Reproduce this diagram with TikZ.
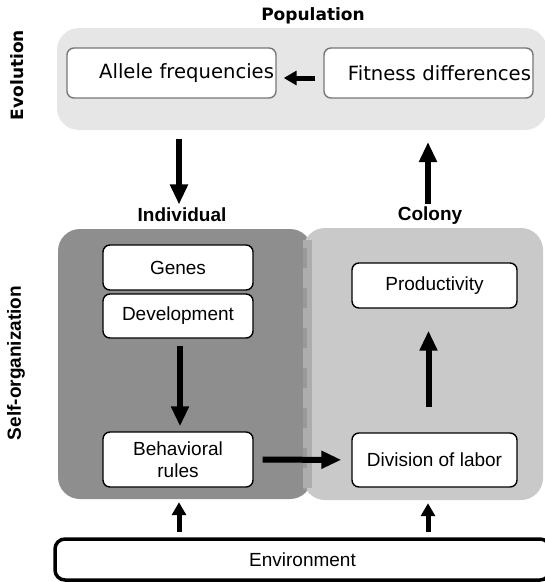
\documentclass[tikz,border=0pt]{standalone}
\usepackage{fontspec}
\setmainfont{Liberation Sans}
\newfontfamily\dejavu{DejaVu Sans}
\usetikzlibrary{arrows.meta}
\definecolor{popgray}{HTML}{E6E6E6}
\definecolor{indgray}{HTML}{8E8E8E}
\definecolor{colgray}{HTML}{C9C9C9}
\definecolor{seamgray}{HTML}{ADADAD}
\definecolor{dashgray}{HTML}{999999}
\definecolor{edgegray}{HTML}{777777}
\tikzset{
  panel/.style={rounded corners=22pt, inner sep=0pt},
  popbox/.style={draw=edgegray, line width=1.4pt, fill=white, rounded corners=7pt,
                 minimum height=50pt, text width=205pt, inner xsep=2pt, align=right,
                 font=\dejavu\fontsize{19.6}{22}\selectfont},
  cellbox/.style={draw=black, line width=1.4pt, fill=white, rounded corners=7pt,
                  align=center, font=\fontsize{19}{22}\selectfont},
  title/.style={font=\bfseries\fontsize{19}{22}\selectfont},
  flow/.style={line width=6pt, -{Triangle[length=20pt,width=17pt]}},
  flowsmall/.style={line width=5pt, -{Triangle[length=13pt,width=14pt]}},
}
\begin{document}
\begin{tikzpicture}[x=1pt, y=-1pt]
            \clip (0, 0) rectangle (545, 582);
            % panels
            \node[panel, fill=popgray, minimum width=490pt, minimum height=102pt] (poppanel) at (302, 79) {};
            \node[panel, fill=indgray, minimum width=254pt, minimum height=270pt] (indpanel) at (185, 364) {};
            \node[panel, fill=colgray, minimum width=240pt, minimum height=272pt] (colpanel) at (423, 364) {};
            \fill[seamgray] (303, 240) rectangle (312, 488);
            \draw[dashgray, line width=4pt, dash pattern=on 20pt off 20pt] (305, 248) -- (305, 490);
            % titles
            \node[font=\dejavu\bfseries\fontsize{17}{20}\selectfont] (population) at (313, 16) {Population};
            \node[font=\dejavu\bfseries\fontsize{17}{20}\selectfont, rotate=90] (evolution) at (17, 75) {Evolution};
            \node[title] (individual) at (182, 215) {Individual};
            \node[title] (colony) at (430, 216) {Colony};
            \node[title, rotate=90] (selforg) at (16, 363) {Self-organization};
            % boxes
            \node[popbox] (allele) at (171.5, 73) {Allele frequencies};
            \node[popbox] (fitness) at (428.5, 73) {Fitness differences};
            \node[cellbox, minimum width=150pt, minimum height=45pt] (genes) at (178, 267.5) {Genes};
            \node[cellbox, minimum width=150pt, minimum height=44pt] (dev) at (178, 316) {Development};
            \node[cellbox, minimum width=150pt, minimum height=55pt] (beh) at (178, 459.5) {Behavioral\\rules};
            \node[cellbox, minimum width=165pt, minimum height=45pt] (prod) at (434.5, 285.5) {Productivity};
            \node[cellbox, minimum width=165pt, minimum height=54pt] (div) at (434.5, 460) {Division of labor};
            \node[cellbox, line width=3.5pt, rounded corners=10pt, minimum width=495pt, minimum height=41pt] (env) at (302.5, 559.5) {Environment};
            % arrows
            \coordinate (popout) at (179, 139);
            \coordinate (popin) at (428, 142);
            \draw[flowsmall, shorten <=8pt, shorten >=7pt] ([yshift=-5pt]fitness.west) -- ([yshift=-5pt]allele.east);
            \draw[flow] (popout) -- (popout |- individual.north);
            \draw[flow] (popin |- colony.north) -- (popin);
            \draw[flow, shorten <=7pt, shorten >=5pt] ([xshift=2pt]dev.south) -- ([xshift=2pt]beh.north);
            \draw[flow, shorten <=9pt, shorten >=10pt] (beh) -- (div);
            \draw[flow, shorten <=25pt, shorten >=22pt] ([xshift=-6pt]div.north) -- ([xshift=-6pt]prod.south);
            \draw[flowsmall, shorten <=5pt, shorten >=3pt] (popout |- env.north) -- (popout |- indpanel.south);
            \draw[flowsmall, shorten <=5pt, shorten >=3pt] (popin |- env.north) -- (popin |- colpanel.south);
        \end{tikzpicture}
\end{document}
